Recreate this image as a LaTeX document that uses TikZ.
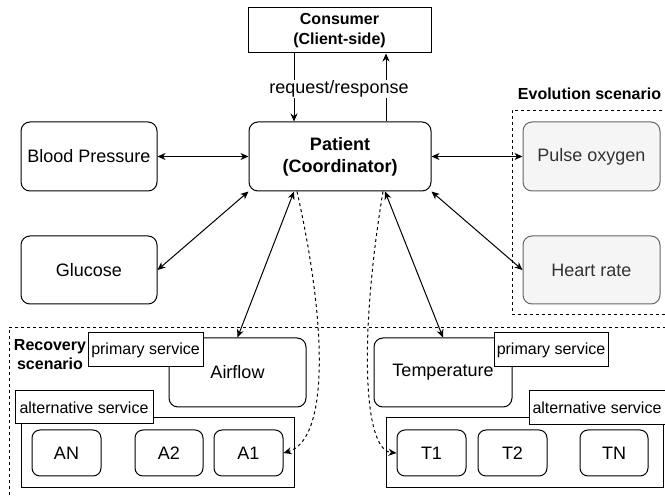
\documentclass[tikz,border=0pt]{standalone}
\usepackage{fontspec}
\setmainfont{Liberation Sans}
\usepackage{tikz}
\usetikzlibrary{shapes, arrows.meta, positioning}
\usepackage{xcolor}
\definecolor{evofill}{HTML}{F5F5F5}
\definecolor{evodraw}{HTML}{666666}
\definecolor{evotext}{HTML}{333333}

\begin{document}
\begin{tikzpicture}[x=1pt,y=-1pt,line width=1pt,
    svc/.style={draw, rounded corners=9pt, minimum width=136pt, minimum height=69pt,
        font=\fontsize{18}{21}\selectfont},
    evo/.style={svc, fill=evofill, draw=evodraw, text=evotext},
    member/.style={draw, rounded corners=8pt, minimum width=69pt, minimum height=46pt,
        font=\fontsize{18}{21}\selectfont},
    tag/.style={draw, fill=white, inner sep=0pt, font=\fontsize{16}{19}\selectfont},
    scen/.style={draw, dash pattern=on 3pt off 3pt, line width=0.9pt},
    heading/.style={font=\fontsize{16}{19}\selectfont\bfseries, align=center},
    both/.style={{Stealth[length=8pt,width=7pt,inset=2.5pt]}-{Stealth[length=8pt,width=7pt,inset=2.5pt]}},
    one/.style={-{Stealth[length=8pt,width=7pt,inset=2.5pt]}},
    fallback/.style={one, dash pattern=on 3pt off 3pt}
]
\useasboundingbox (0,0) rectangle (665,497);
\clip (0,0) rectangle (665,497);

% scenario areas
\node[scen, minimum width=156pt, minimum height=204pt] (evolution) at (590,212) {};
\node[scen, minimum width=659pt, minimum height=173pt] (recovery) at (338.5,413.5) {};
\node[heading] (evolabel) at (589.5,94) {Evolution scenario};
\node[heading] (recolabel) at (50,354.5) {Recovery\\scenario};

% consumer and coordinator
\node[draw, minimum width=183pt, minimum height=45pt, align=center,
    font=\fontsize{16}{20}\selectfont\bfseries] (consumer) at (339.5,30.5) {Consumer\\(Client-side)};
\node[svc, minimum width=182pt, align=center,
    font=\fontsize{18}{22}\selectfont\bfseries] (patient) at (340,156.5) {Patient\\(Coordinator)};

% services
\node[svc] (pressure) at (89,156.5) {Blood Pressure};
\node[svc, minimum height=68pt] (glucose) at (89,270) {Glucose};
\node[evo, minimum width=137pt] (pulse) at (591.5,156.5) {Pulse oxygen};
\node[evo, minimum width=137pt, minimum height=68pt] (heart) at (591.5,270) {Heart rate};
\node[svc, minimum width=137pt] (airflow) at (237.5,372.5) {Airflow};
\node[svc, minimum width=138pt] (temperature) at (443,372.5) {Temperature};
\node[tag, minimum width=115pt, minimum height=34pt] (primleft) at (145.5,350) {primary service};
\node[tag, minimum width=114pt, minimum height=34pt] (primright) at (551,350) {primary service};

% alternatives
\node[draw, minimum width=273pt, minimum height=69pt] (altleft) at (157.5,452.5) {};
\node[draw, minimum width=277pt, minimum height=69pt] (altright) at (524.5,452.5) {};
\node[tag, minimum width=138pt, minimum height=33pt] (altleftlabel) at (84,407.5) {alternative service};
\node[tag, minimum width=136pt, minimum height=34pt] (altrightlabel) at (597,408) {alternative service};
\node[member] (an) at (66.5,453) {AN};
\node[member, minimum width=68pt] (a2) at (169,453) {A2};
\node[member] (a1) at (248.5,453) {A1};
\node[member] (t1) at (431.5,453) {T1};
\node[member] (t2) at (512.5,453) {T2};
\node[member, minimum width=68pt] (tn) at (614,453) {TN};

% connectors
\draw[one] ([xshift=-45.5pt]consumer.south) -- ([xshift=-46pt]patient.north);
\draw[one] ([xshift=46pt]patient.north) -- ([xshift=46.5pt]consumer.south);
\node[fill=white, inner sep=1pt, font=\fontsize{18}{21}\selectfont] (reqlabel) at (339,89) {request/response};
\draw[both] (pressure) -- (patient);
\draw[both] (patient) -- (pulse);
\draw[both] (glucose.east) -- (patient.south west);
\draw[both] (patient.south east) -- (heart.west);
\draw[both] ([xshift=-46pt]patient.south) -- (airflow.north);
\draw[both] ([xshift=45pt]patient.south) -- (temperature.north);
\draw[fallback] ([xshift=-43pt]patient.south) .. controls (328,330) and (328,440) .. (a1.east);
\draw[fallback] ([xshift=43pt]patient.south) .. controls (360,330) and (362,450) .. (t1.west);

\end{tikzpicture}
\end{document}
